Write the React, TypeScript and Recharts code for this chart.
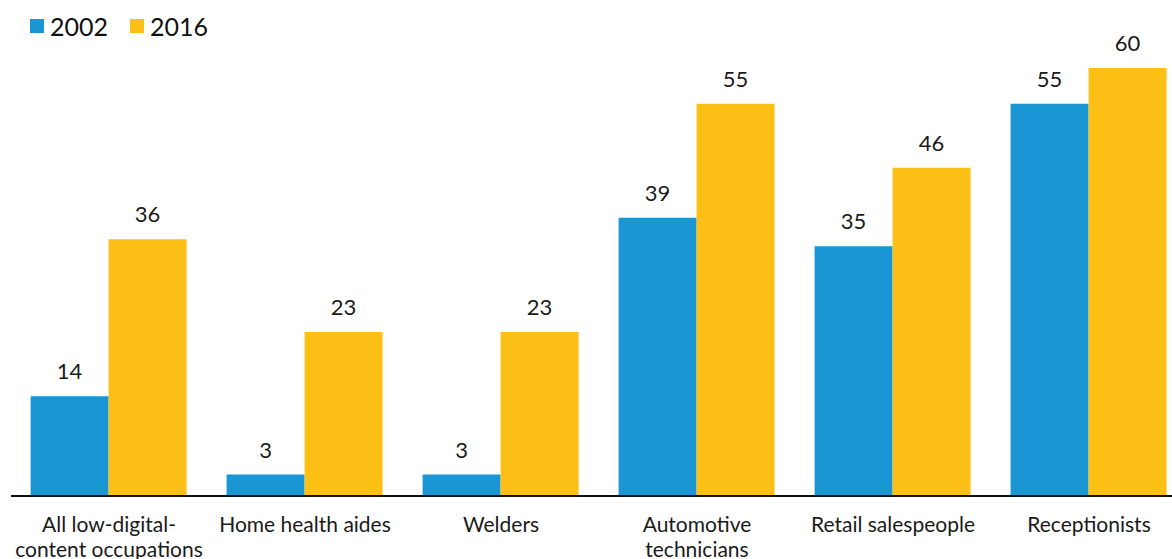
import { BarChart, Bar, XAxis, YAxis, LabelList } from 'recharts'

const categories = [
    'All low-digital-\ncontent occupations',
    'Home health aides',
    'Welders',
    'Automotive\ntechnicians',
    'Retail salespeople',
    'Receptionists',
]
const values2002 = [14, 3, 3, 39, 35, 55]
const values2016 = [36, 23, 23, 55, 46, 60]

const BLUE = '#1996d3'
const YELLOW = '#fcbf15'
const FONT = 'Lato, "Noto Sans", sans-serif'

const data = categories.map((name, i) => ({
    name,
    y2002: values2002[i],
    y2016: values2016[i],
}))

function CategoryTick(props: any) {
    const { x, y, payload } = props
    const lines = String(payload.value).split('\n')
    return (
        <text x={x} y={y} textAnchor="middle" fill="#1a1a1a" fontSize={21} fontFamily={FONT}>
            {lines.map((line, i) => (
                <tspan key={i} x={x} dy={i === 0 ? 36 : 25}>{line}</tspan>
            ))}
        </text>
    )
}

function LegendBox() {
    const items = [
        { label: '2002', color: BLUE },
        { label: '2016', color: YELLOW },
    ]
    return (
        <div style={{ position: 'absolute', left: 30, top: 11, display: 'flex', fontFamily: FONT, fontSize: 25, color: '#111', lineHeight: '30px' }}>
            {items.map(item => (
                <div key={item.label} style={{ display: 'flex', alignItems: 'center', marginRight: 22 }}>
                    <span style={{ width: 14, height: 14, background: item.color, display: 'inline-block', marginRight: 6 }} />
                    <span>{item.label}</span>
                </div>
            ))}
        </div>
    )
}

export default function App() {
    return (
        <div style={{ position: 'fixed', left: 0, top: 0, width: 1172, height: 559, overflow: 'hidden', background: '#fff' }}>
            <LegendBox />
            <BarChart
                width={1200}
                height={559}
                data={data}
                margin={{ top: 68, right: 13, bottom: 0, left: 11 }}
                barCategoryGap="10%"
                barGap={0}
            >
                <XAxis
                    dataKey="name"
                    height={63}
                    interval={0}
                    tickLine={false}
                    tickSize={0}
                    tickMargin={0}
                    axisLine={{ stroke: '#111', strokeWidth: 2 }}
                    tick={<CategoryTick />}
                />
                <YAxis hide domain={[0, 60]} />
                <Bar dataKey="y2002" fill={BLUE} isAnimationActive={false}>
                    <LabelList dataKey="y2002" position="top" offset={17} fill="#1a1a1a" fontSize={22} fontFamily={FONT} />
                </Bar>
                <Bar dataKey="y2016" fill={YELLOW} isAnimationActive={false}>
                    <LabelList dataKey="y2016" position="top" offset={17} fill="#1a1a1a" fontSize={22} fontFamily={FONT} />
                </Bar>
            </BarChart>
        </div>
    )
}
